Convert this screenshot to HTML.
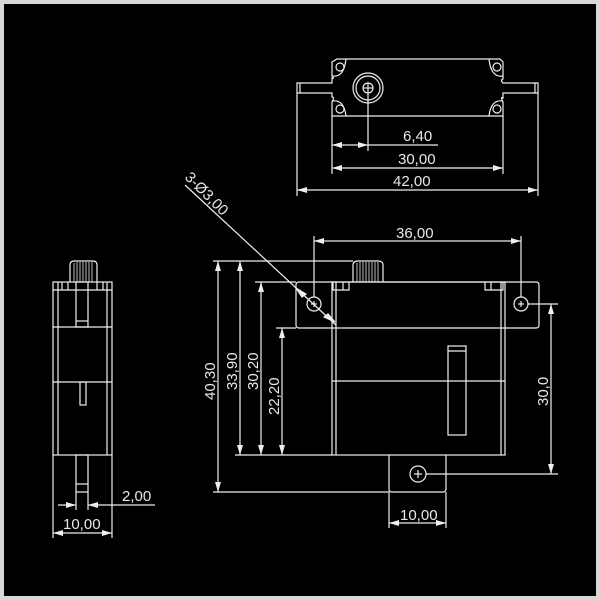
<!DOCTYPE html>
<html><head><style>
html,body{margin:0;padding:0;background:#000;}
svg{display:block}
text{font-family:"Liberation Sans",sans-serif;font-size:15px;fill:#e8e8e8}
</style></head><body>
<svg width="600" height="600" viewBox="0 0 600 600" xmlns="http://www.w3.org/2000/svg">
<defs>
<marker id="a" viewBox="0 0 10 6" refX="10" refY="3" markerWidth="10" markerHeight="6" orient="auto-start-reverse" markerUnits="userSpaceOnUse">
<path d="M0,0 L10,3 L0,6 z" fill="#eee"/></marker>
</defs>
<rect x="0" y="0" width="600" height="600" fill="#000"/>
<rect x="2" y="2" width="596" height="596" fill="none" stroke="#d8d8d8" stroke-width="4"/>
<g stroke="#eee" stroke-width="1.2" fill="none">
<!-- TOP VIEW -->
<path d="M337,59 H500 L503,62 V79 Q500,80 503,83 H538 V93 H503 V98 Q500,96 503,102 V116 H332 V102 Q335,97 332,97 V93 H297 V83 H332 V78 Q335,79 332,76 V62 Z"/>
<path d="M332,76 Q344,78 346,59"/><path d="M503,76 Q491,78 489,59"/>
<path d="M332,101 Q344,99 346,116"/><path d="M503,101 Q491,99 489,116"/>
<circle cx="340" cy="67" r="4"/><circle cx="497" cy="67" r="4"/>
<circle cx="340" cy="109" r="4"/><circle cx="497" cy="109" r="4"/>
<line x1="300" y1="83" x2="300" y2="93"/><line x1="535" y1="83" x2="535" y2="93"/>
<circle cx="368" cy="88" r="15"/><circle cx="368" cy="88" r="12"/>
<circle cx="368" cy="88" r="5"/>
<line x1="363" y1="88" x2="373" y2="88"/><line x1="368" y1="83" x2="368" y2="151"/>
<line x1="332" y1="116" x2="332" y2="174"/><line x1="503" y1="116" x2="503" y2="174"/>
<line x1="297" y1="93" x2="297" y2="196"/><line x1="538" y1="93" x2="538" y2="196"/>
<line x1="332" y1="145" x2="368" y2="145" marker-start="url(#a)" marker-end="url(#a)"/>
<line x1="368" y1="145" x2="438" y2="145"/>
<line x1="332" y1="168" x2="503" y2="168" marker-start="url(#a)" marker-end="url(#a)"/>
<line x1="297" y1="190" x2="538" y2="190" marker-start="url(#a)" marker-end="url(#a)"/>

<!-- MAIN VIEW -->
<path d="M299,282 H536 Q539,282 539,285 V325 Q539,328 536,328 H299 Q296,328 296,325 V285 Q296,282 299,282"/>
<rect x="332" y="282" width="173" height="173"/>
<line x1="336" y1="282" x2="336" y2="455"/><line x1="501" y1="282" x2="501" y2="455"/>
<path d="M333,282 V290 H349 V282"/><line x1="343" y1="282" x2="343" y2="290"/>
<path d="M485,282 V290 H503 V282"/><line x1="491" y1="282" x2="491" y2="290"/>
<line x1="332" y1="381" x2="505" y2="381"/>
<rect x="448" y="346" width="18" height="89"/><line x1="448" y1="351" x2="466" y2="351"/>
<path d="M353,282 V265 Q353,261 358,261 H378 Q383,261 383,265 V282"/>
<g stroke-width="0.8"><line x1="357" y1="263" x2="357" y2="282"/><line x1="360" y1="262" x2="360" y2="282"/><line x1="363" y1="262" x2="363" y2="282"/><line x1="366" y1="262" x2="366" y2="282"/><line x1="369" y1="262" x2="369" y2="282"/><line x1="372" y1="262" x2="372" y2="282"/><line x1="375" y1="262" x2="375" y2="282"/><line x1="378" y1="262" x2="378" y2="282"/></g>
<circle cx="314" cy="304" r="7"/><circle cx="521" cy="304" r="7"/>
<line x1="311" y1="304" x2="317" y2="304"/><line x1="314" y1="301" x2="314" y2="307"/>
<line x1="518" y1="304" x2="524" y2="304"/><line x1="521" y1="301" x2="521" y2="307"/>
<path d="M389,455 V489 Q389,492 392,492 H443 Q446,492 446,489 V455"/>
<circle cx="418" cy="474" r="8"/>
<line x1="414" y1="474" x2="422" y2="474"/><line x1="418" y1="470" x2="418" y2="478"/>
<line x1="314" y1="236" x2="314" y2="297"/><line x1="521" y1="236" x2="521" y2="297"/>
<line x1="314" y1="241" x2="521" y2="241" marker-start="url(#a)" marker-end="url(#a)"/>
<line x1="185" y1="185" x2="336" y2="325"/>
<path d="M296,288 l10,6 l-4,3 z" fill="#eee"/>
<path d="M335,322 l-11,-5 l4,-3 z" fill="#eee"/>
<line x1="213" y1="261" x2="353" y2="261"/><line x1="213" y1="492" x2="389" y2="492"/>
<line x1="255" y1="282" x2="296" y2="282"/><line x1="276" y1="328" x2="296" y2="328"/>
<line x1="235" y1="455" x2="332" y2="455"/>
<line x1="218" y1="261" x2="218" y2="492" marker-start="url(#a)" marker-end="url(#a)"/>
<line x1="240" y1="261" x2="240" y2="455" marker-start="url(#a)" marker-end="url(#a)"/>
<line x1="261" y1="282" x2="261" y2="455" marker-start="url(#a)" marker-end="url(#a)"/>
<line x1="282" y1="328" x2="282" y2="455" marker-start="url(#a)" marker-end="url(#a)"/>
<line x1="528" y1="304" x2="558" y2="304"/><line x1="426" y1="474" x2="558" y2="474"/>
<line x1="551" y1="304" x2="551" y2="474" marker-start="url(#a)" marker-end="url(#a)"/>
<line x1="389" y1="492" x2="389" y2="528"/><line x1="446" y1="492" x2="446" y2="528"/>
<line x1="389" y1="523" x2="446" y2="523" marker-start="url(#a)" marker-end="url(#a)"/>

<!-- SIDE VIEW -->
<rect x="53" y="282" width="59" height="173"/>
<line x1="58" y1="282" x2="58" y2="455"/><line x1="107" y1="282" x2="107" y2="455"/>
<line x1="53" y1="290" x2="112" y2="290"/>
<line x1="62" y1="282" x2="62" y2="290"/><line x1="68" y1="282" x2="68" y2="290"/>
<line x1="97" y1="282" x2="97" y2="290"/><line x1="103" y1="282" x2="103" y2="290"/>
<rect x="76" y="282" width="12" height="45"/><line x1="76" y1="321" x2="88" y2="321"/>
<line x1="53" y1="327" x2="112" y2="327"/><line x1="53" y1="382" x2="112" y2="382"/>
<rect x="80" y="382" width="6" height="23"/>
<path d="M70,282 V265 Q70,261 74,261 H93 Q97,261 97,265 V282"/>
<g stroke-width="0.8"><line x1="74" y1="263" x2="74" y2="282"/><line x1="77" y1="262" x2="77" y2="282"/><line x1="80" y1="262" x2="80" y2="282"/><line x1="83" y1="262" x2="83" y2="282"/><line x1="86" y1="262" x2="86" y2="282"/><line x1="89" y1="262" x2="89" y2="282"/><line x1="92" y1="262" x2="92" y2="282"/></g>
<rect x="76" y="455" width="12" height="37"/><line x1="76" y1="484" x2="88" y2="484"/>
<line x1="76" y1="492" x2="76" y2="510"/><line x1="88" y1="492" x2="88" y2="510"/>
<line x1="58" y1="505" x2="76" y2="505" marker-end="url(#a)"/>
<line x1="88" y1="505" x2="155" y2="505" marker-start="url(#a)"/>
<line x1="53" y1="455" x2="53" y2="538"/><line x1="112" y1="455" x2="112" y2="538"/>
<line x1="53" y1="533" x2="112" y2="533" marker-start="url(#a)" marker-end="url(#a)"/>
</g>
<text x="403" y="141">6,40</text>
<text x="398" y="164">30,00</text>
<text x="393" y="186">42,00</text>
<text x="396" y="238">36,00</text>
<text x="184" y="178" transform="rotate(45 184 178)">3-Ø3,00</text>
<text transform="translate(215 400) rotate(-90)">40,30</text>
<text transform="translate(237 390) rotate(-90)">33,90</text>
<text transform="translate(258 390) rotate(-90)">30,20</text>
<text transform="translate(279 415) rotate(-90)">22,20</text>
<text transform="translate(548 406) rotate(-90)">30,0</text>
<text x="400" y="520">10,00</text>
<text x="122" y="501">2,00</text>
<text x="63" y="529">10,00</text>
</svg>
</body></html>
